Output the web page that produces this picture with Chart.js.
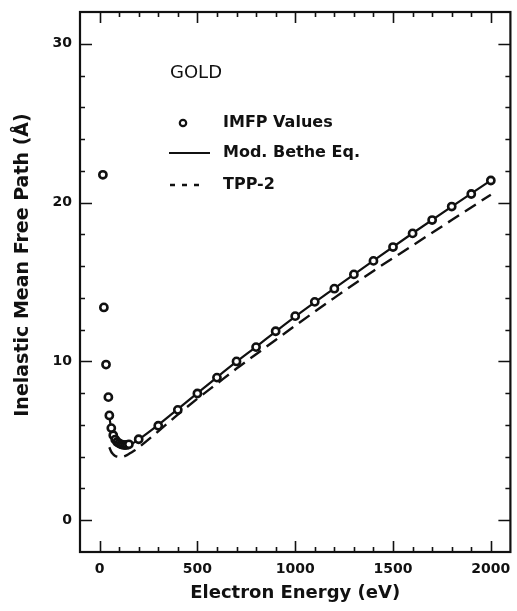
<!DOCTYPE html>
<html>
<head>
<meta charset="utf-8">
<title>Gold IMFP</title>
<script src="https://cdn.jsdelivr.net/npm/chart.js@4.4.1/dist/chart.umd.min.js"></script>
<style>
html, body { margin: 0; padding: 0; background: #fff; }
#wrap { width: 517px; height: 611px; }
</style>
</head>
<body>
<div id="wrap"><canvas id="imfpChart" width="517" height="611"></canvas></div>
<script>
// calculated IMFP values for gold (energy in eV, IMFP in angstrom)
const imfpEnergy = [17, 22, 33, 45, 50, 60, 70, 80, 90, 100, 110, 120, 130, 140, 150,
  200, 300, 400, 500, 600, 700, 800, 900, 1000, 1100, 1200, 1300, 1400, 1500, 1600, 1700, 1800, 1900, 2000];
const imfpValue = [21.75, 13.4, 9.8, 7.75, 6.6, 5.8, 5.35, 5.08, 4.93, 4.84, 4.78, 4.75, 4.73, 4.74, 4.78,
  5.1, 5.95, 6.95, 7.98, 8.98, 10.0, 10.9, 11.9, 12.85, 13.75, 14.58, 15.48, 16.33, 17.2, 18.06, 18.9, 19.75, 20.54, 21.39];

// fit with the modified Bethe equation
const betheEnergy = [50, 60, 70, 80, 90, 100, 120, 140, 160, 180, 200, 300, 400, 500, 600, 700, 800, 900, 1000, 1200, 1400, 1600, 1800, 2000];
const betheValue = [6.5, 5.75, 5.3, 5.05, 4.92, 4.83, 4.74, 4.73, 4.8, 4.92, 5.08, 6.0, 7.0, 8.0, 9.0, 9.98, 10.92, 11.88, 12.82, 14.6, 16.35, 18.07, 19.75, 21.4];

// TPP-2 predictive formula
const tppEnergy = [50, 60, 70, 80, 90, 100, 120, 140, 160, 180, 200, 300, 400, 500, 600, 700, 800, 900, 1000, 1200, 1400, 1600, 1800, 2000];
const tppValue = [4.6, 4.3, 4.15, 4.05, 4.0, 3.98, 4.0, 4.1, 4.25, 4.4, 4.58, 5.6, 6.65, 7.65, 8.6, 9.55, 10.45, 11.35, 12.25, 14.0, 15.7, 17.3, 18.9, 20.5];

const xTickValues = [0, 500, 1000, 1500, 2000];
const yTickValues = [0, 10, 20, 30];

const FONT = "'DejaVu Sans', Verdana, sans-serif";
const INK = "#111";

function toPoints(xs, ys) {
  return xs.map((x, i) => ({ x: x, y: ys[i] }));
}

// box frame with inward major/minor ticks on all four sides
const framePlugin = {
  id: "frame",
  afterDraw(chart) {
    const ctx = chart.ctx;
    const a = chart.chartArea;
    const xs = chart.scales.x;
    const ys = chart.scales.y;
    ctx.save();
    ctx.strokeStyle = INK;
    ctx.lineWidth = 1.6;
    for (let v = 0; v <= 2000; v += 100) {
      const px = Math.round(xs.getPixelForValue(v)) + 0.5;
      const len = v % 500 === 0 ? 11 : 5;
      ctx.beginPath();
      ctx.moveTo(px, a.bottom); ctx.lineTo(px, a.bottom - len);
      ctx.moveTo(px, a.top); ctx.lineTo(px, a.top + len);
      ctx.stroke();
    }
    for (let v = 0; v <= 30; v += 2) {
      const py = Math.round(ys.getPixelForValue(v)) + 0.5;
      const len = v % 10 === 0 ? 12 : 5;
      ctx.beginPath();
      ctx.moveTo(a.left, py); ctx.lineTo(a.left + len, py);
      ctx.moveTo(a.right, py); ctx.lineTo(a.right - len, py);
      ctx.stroke();
    }
    ctx.lineWidth = 2.2;
    ctx.strokeRect(a.left, a.top, a.right - a.left, a.bottom - a.top);

    // y axis title
    ctx.fillStyle = INK;
    ctx.font = "bold 19px " + FONT;
    ctx.textAlign = "center";
    ctx.textBaseline = "middle";
    ctx.translate(23, 265);
    ctx.rotate(-Math.PI / 2);
    ctx.fillText("Inelastic Mean Free Path (Å)", 0, 0);
    ctx.restore();
  }
};

// key inside the plot
const keyPlugin = {
  id: "key",
  afterDraw(chart) {
    const ctx = chart.ctx;
    ctx.save();
    ctx.fillStyle = INK;
    ctx.strokeStyle = INK;
    ctx.textBaseline = "middle";
    ctx.textAlign = "left";
    ctx.font = "18px " + FONT;
    ctx.fillText("GOLD", 170, 73);

    ctx.font = "bold 16px " + FONT;
    ctx.lineWidth = 2.2;
    ctx.beginPath();
    ctx.arc(183, 123, 3.2, 0, Math.PI * 2);
    ctx.stroke();
    ctx.fillText("IMFP Values", 223, 123);

    ctx.beginPath();
    ctx.moveTo(169, 153); ctx.lineTo(210, 153);
    ctx.stroke();
    ctx.fillText("Mod. Bethe Eq.", 223, 153);

    ctx.setLineDash([5, 7]);
    ctx.lineWidth = 2.4;
    ctx.beginPath();
    ctx.moveTo(170, 185); ctx.lineTo(202, 185);
    ctx.stroke();
    ctx.setLineDash([]);
    ctx.fillText("TPP-2", 223, 185);
    ctx.restore();
  }
};

new Chart(document.getElementById("imfpChart"), {
  type: "scatter",
  data: {
    datasets: [
      {
        label: "IMFP Values",
        data: toPoints(imfpEnergy, imfpValue),
        showLine: false,
        pointRadius: 3.6,
        pointBorderWidth: 2.6,
        pointBorderColor: INK,
        pointBackgroundColor: "#fff",
        order: 0
      },
      {
        label: "Mod. Bethe Eq.",
        data: toPoints(betheEnergy, betheValue),
        showLine: true,
        borderColor: INK,
        borderWidth: 2.2,
        pointRadius: 0,
        cubicInterpolationMode: "monotone",
        order: 1
      },
      {
        label: "TPP-2",
        data: toPoints(tppEnergy, tppValue),
        showLine: true,
        borderColor: INK,
        borderWidth: 2.4,
        borderDash: [13, 7],
        pointRadius: 0,
        cubicInterpolationMode: "monotone",
        order: 2
      }
    ]
  },
  options: {
    responsive: false,
    animation: false,
    devicePixelRatio: 1,
    layout: { padding: { left: 0, right: 5, top: 12, bottom: 0 } },
    plugins: {
      legend: { display: false },
      tooltip: { enabled: false }
    },
    scales: {
      x: {
        type: "linear",
        min: -100,
        max: 2100,
        afterBuildTicks: s => { s.ticks = xTickValues.map(v => ({ value: v })); },
        afterFit: s => { s.height = 59; s.paddingLeft = 0; s.paddingRight = 0; },
        grid: { display: false, drawTicks: false },
        border: { display: false },
        ticks: {
          color: INK,
          padding: 9,
          maxRotation: 0,
          callback: v => String(v),
          font: { family: FONT, size: 14, weight: "bold" }
        },
        title: {
          display: true,
          text: "Electron Energy (eV)",
          color: INK,
          padding: { top: 0, bottom: 7 },
          font: { family: FONT, size: 18, weight: "bold" }
        }
      },
      y: {
        type: "linear",
        min: -2,
        max: 32,
        afterBuildTicks: s => { s.ticks = yTickValues.map(v => ({ value: v })); },
        afterFit: s => { s.width = 80; s.paddingTop = 0; s.paddingBottom = 0; },
        grid: { display: false, drawTicks: false },
        border: { display: false },
        ticks: {
          color: INK,
          padding: 8,
          font: { family: FONT, size: 14, weight: "bold" }
        }
      }
    }
  },
  plugins: [framePlugin, keyPlugin]
});
</script>
</body>
</html>
